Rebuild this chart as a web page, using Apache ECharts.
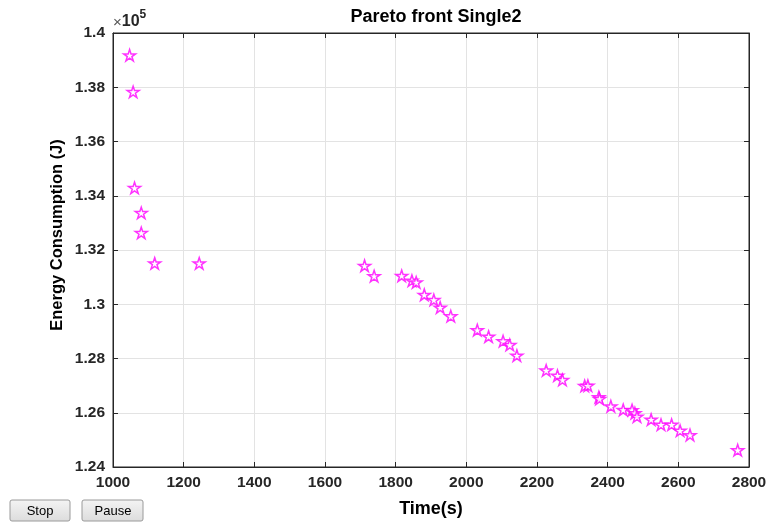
<!DOCTYPE html>
<html><head><meta charset="utf-8">
<script src="https://cdn.jsdelivr.net/npm/echarts@6/dist/echarts.min.js"></script>
<style>html,body{margin:0;padding:0;background:#fff}#c{width:770px;height:524px}</style>
</head><body><div id="c"></div>
<script>
const timeValues = [1047,1057,1061,1080,1080,1118,1244,1712,1739,1817,1846,1858,1881,1908,1926,1956,2031,2063,2104,2123,2143,2226,2258,2272,2335,2344,2375,2377,2409,2444,2469,2477,2483,2523,2551,2581,2605,2633,2768];
const energyValues = [139180,137830,134290,133370,132630,131510,131510,131420,131040,131050,130870,130810,130350,130160,129880,129560,129050,128810,128640,128500,128110,127560,127370,127210,126990,127000,126580,126510,126240,126110,126100,125990,125860,125750,125560,125560,125340,125180,124620];
const xTicks = [1000,1200,1400,1600,1800,2000,2200,2400,2600,2800];
const yTicks = [124000,126000,128000,130000,132000,134000,136000,138000,140000];

// pentagram symbol path
function starPath(){
  const pts=[];
  for(let i=0;i<10;i++){
    const r = i%2===0?50:19.1;
    const a = -Math.PI/2 + i*Math.PI/5;
    pts.push((50+r*Math.cos(a)).toFixed(2)+','+(50+r*Math.sin(a)).toFixed(2));
  }
  return 'path://M'+pts.join('L')+'Z';
}
const chart = echarts.init(document.getElementById('c'),null,{renderer:'canvas'});
const axisCol='#262626';
const FF='Liberation Sans, Arial, sans-serif';
const labelStyle={color:axisCol,fontWeight:'bold',fontSize:15.5,fontFamily:FF};
const data = timeValues.map((t,i)=>[t,energyValues[i]]);
chart.setOption({
  animation:false,
  backgroundColor:'#fff',
  title:{text:'Pareto front Single2',left:431,top:3,textAlign:'center',
    textStyle:{fontSize:18,fontWeight:'bold',color:'#000',fontFamily:FF}},
  grid:{left:113,right:21,top:33,bottom:57,show:true,borderColor:axisCol,borderWidth:1},
  xAxis:[{type:'value',min:1000,max:2800,interval:200,position:'bottom',
    axisLine:{show:true,lineStyle:{color:axisCol}},
    axisTick:{show:true,inside:true,length:5,lineStyle:{color:axisCol}},
    axisLabel:Object.assign({margin:8,formatter:v=>xTicks.includes(v)?String(v):''},labelStyle),
    splitLine:{show:true,lineStyle:{color:'#e3e3e3'}},
    name:'Time(s)',nameLocation:'middle',nameGap:33,
    nameTextStyle:Object.assign({},labelStyle,{fontSize:18,color:'#000'})},
   {type:'value',min:1000,max:2800,interval:200,position:'top',
    axisLine:{show:true,lineStyle:{color:axisCol}},
    axisTick:{show:true,inside:true,length:5,lineStyle:{color:axisCol}},
    axisLabel:{show:false},splitLine:{show:false}}],
  yAxis:[{type:'value',min:124000,max:140000,interval:2000,position:'left',
    axisLine:{show:true,lineStyle:{color:axisCol}},
    axisTick:{show:true,inside:true,length:5,lineStyle:{color:axisCol}},
    axisLabel:Object.assign({margin:8,formatter:v=>yTicks.includes(v)?String(+(v/1e5).toFixed(2)):''},labelStyle),
    splitLine:{show:true,lineStyle:{color:'#e3e3e3'}}},
   {type:'value',min:124000,max:140000,interval:2000,position:'right',
    axisLine:{show:true,lineStyle:{color:axisCol}},
    axisTick:{show:true,inside:true,length:5,lineStyle:{color:axisCol}},
    axisLabel:{show:false},splitLine:{show:false}}],
  series:[{type:'scatter',xAxisIndex:0,yAxisIndex:0,data:data,
    symbol:starPath(),symbolSize:12,symbolKeepAspect:true,
    itemStyle:{color:'#fff',borderColor:'#ff00ff',borderWidth:1.5}}],
  graphic:[
    {type:'text',x:57,y:235,rotation:Math.PI/2,style:{text:'Energy Consumption (J)',fill:'#000',fontSize:16.5,fontWeight:'bold',fontFamily:FF,align:'center',verticalAlign:'middle'}},
    {type:'text',x:113,y:30,style:{text:'{x|×}{a|10}{b|5}',verticalAlign:'bottom',rich:{
      x:{fontSize:15,fill:'#555',fontFamily:FF,verticalAlign:'bottom'},
      a:{fontSize:16,fill:axisCol,fontWeight:'bold',fontFamily:FF,verticalAlign:'bottom'},
      b:{fontSize:12,fill:axisCol,fontWeight:'bold',fontFamily:FF,verticalAlign:'top',padding:[0,0,9,0]}}}},
    {type:'rect',shape:{x:10,y:500,width:60,height:21,r:2},style:{fill:new echarts.graphic.LinearGradient(0,0,0,1,[{offset:0,color:'#f4f4f4'},{offset:1,color:'#dcdcdc'}]),stroke:'#9a9a9a',lineWidth:1}},
    {type:'text',x:40,y:511,style:{text:'Stop',fill:'#000',fontSize:13,fontFamily:FF,align:'center',verticalAlign:'middle'}},
    {type:'rect',shape:{x:82,y:500,width:61,height:21,r:2},style:{fill:new echarts.graphic.LinearGradient(0,0,0,1,[{offset:0,color:'#f4f4f4'},{offset:1,color:'#dcdcdc'}]),stroke:'#9a9a9a',lineWidth:1}},
    {type:'text',x:113,y:511,style:{text:'Pause',fill:'#000',fontSize:13,fontFamily:FF,align:'center',verticalAlign:'middle'}}
  ]
});
</script></body></html>
